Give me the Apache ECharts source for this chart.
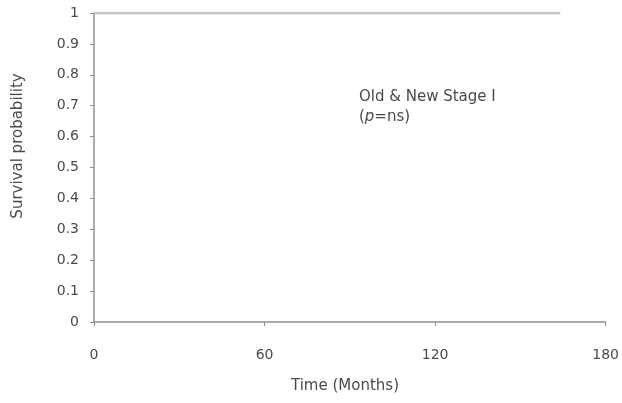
<!DOCTYPE html>
<html>
<head>
<meta charset="utf-8">
<script src="https://cdn.jsdelivr.net/npm/echarts@6/dist/echarts.min.js"></script>
<style>
  html, body { margin: 0; padding: 0; background: #fff; }
  #chart { width: 622px; height: 403px; }
</style>
</head>
<body>
<div id="chart"></div>
<script>
// Kaplan-Meier survival, Stage I (old vs new staging)
const months = [0, 164];
const oldStage = [1, 1];
const newStage = [1, 1];
const xTicks = [0, 60, 120, 180];
const yTicks = [0, 0.1, 0.2, 0.3, 0.4, 0.5, 0.6, 0.7, 0.8, 0.9, 1];

const FONT = '"DejaVu Sans", "Liberation Sans", Arial, sans-serif';
const TEXT = '#4a4a4a';
const AXIS = '#8f8f8f';
const CURVE = '#c6c6c6';

const chart = echarts.init(document.getElementById('chart'), null, { renderer: 'canvas' });

function pairs(xs, ys) { return xs.map((x, i) => [x, ys[i]]); }

chart.setOption({
  animation: false,
  backgroundColor: '#fff',
  grid: { left: 94, right: 14, top: 13, bottom: 81, containLabel: false },
  xAxis: {
    type: 'value',
    min: xTicks[0],
    max: xTicks[xTicks.length - 1],
    interval: 60,
    axisLine: { show: true, lineStyle: { color: AXIS, width: 1.5 } },
    axisTick: { show: true, length: 4, lineStyle: { color: AXIS } },
    axisLabel: { color: TEXT, fontFamily: FONT, fontSize: 14, margin: 26 },
    splitLine: { show: false }
  },
  yAxis: {
    type: 'value',
    min: yTicks[0],
    max: yTicks[yTicks.length - 1],
    interval: 0.1,
    axisLine: { show: true, lineStyle: { color: AXIS, width: 1.5 } },
    axisTick: { show: true, length: 4, lineStyle: { color: AXIS } },
    axisLabel: {
      color: TEXT, fontFamily: FONT, fontSize: 14, margin: 15,
      formatter: v => String(Math.round(v * 10) / 10)
    },
    splitLine: { show: false }
  },
  series: [
    {
      name: 'Old Stage I',
      type: 'line',
      step: 'end',
      showSymbol: false,
      data: pairs(months, oldStage),
      lineStyle: { color: CURVE, width: 2.5 },
      z: 1
    },
    {
      name: 'New Stage I',
      type: 'line',
      step: 'end',
      showSymbol: false,
      data: pairs(months, newStage),
      lineStyle: { color: CURVE, width: 2.5 },
      z: 2
    }
  ],
  graphic: [
    {
      type: 'text',
      left: 359,
      top: 87,
      style: {
        text: 'Old & New Stage I\n{p|(}{i|p}{p|=ns)}',
        fill: TEXT,
        font: '15px ' + FONT,
        lineHeight: 20,
        rich: {
          p: { fill: TEXT, fontFamily: FONT, fontSize: 15 },
          i: { fill: TEXT, fontFamily: FONT, fontSize: 15, fontStyle: 'italic' }
        }
      }
    },
    {
      type: 'text',
      x: 18,
      y: 146,
      rotation: Math.PI / 2,
      style: {
        text: 'Survival probability',
        fill: TEXT,
        font: '15px ' + FONT,
        align: 'center',
        verticalAlign: 'middle'
      }
    },
    {
      type: 'text',
      x: 345,
      y: 386,
      style: {
        text: 'Time (Months)',
        fill: TEXT,
        font: '15px ' + FONT,
        align: 'center',
        verticalAlign: 'middle'
      }
    }
  ]
});
</script>
</body>
</html>
